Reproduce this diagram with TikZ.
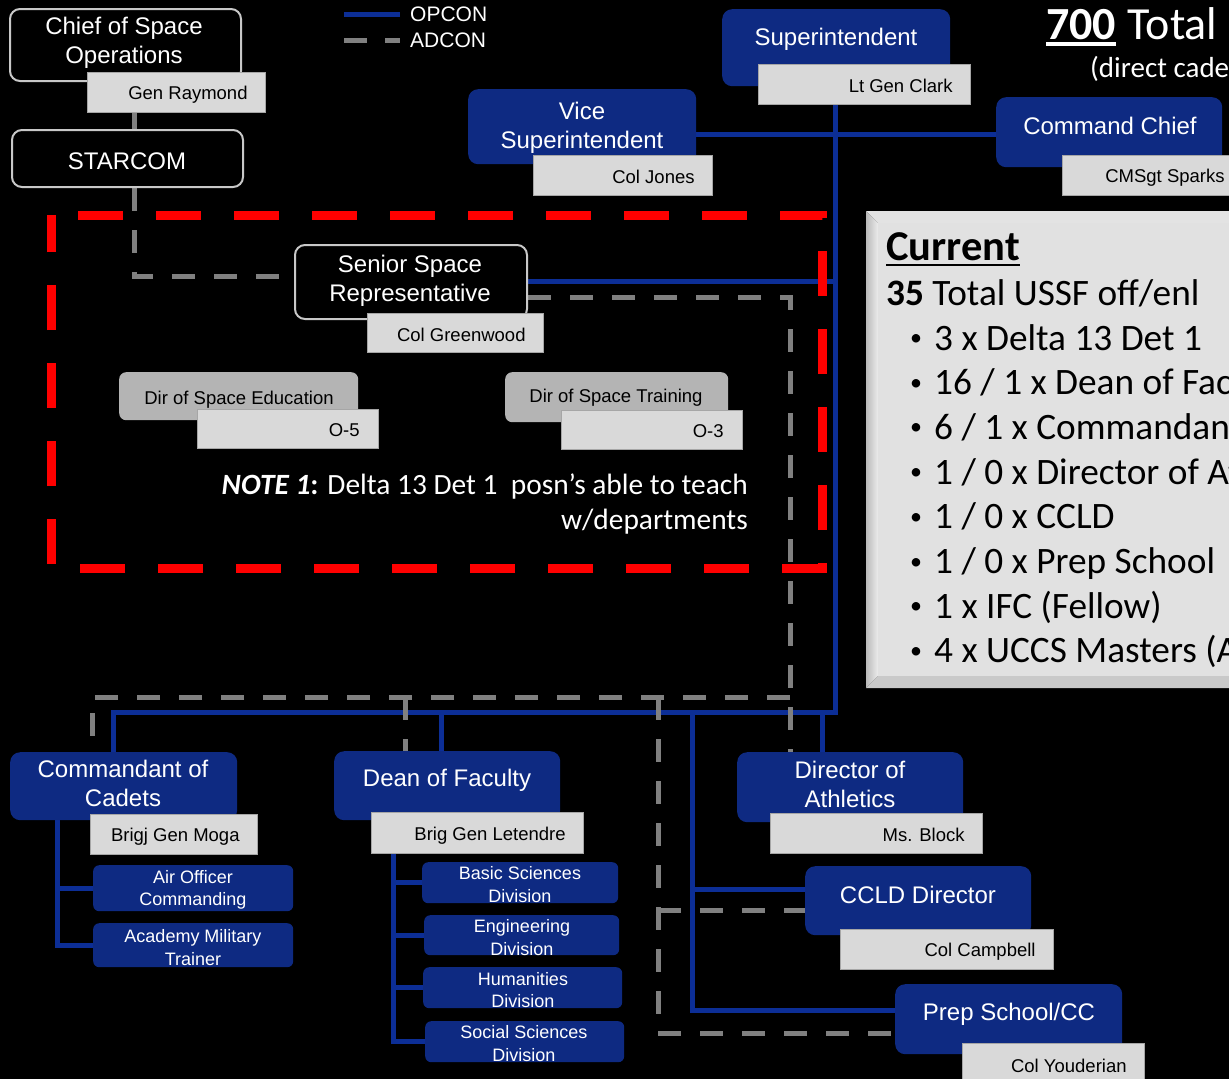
\documentclass[tikz,border=0pt]{standalone}
\usepackage{fontspec}
\setmainfont{Liberation Sans}
\newfontfamily\calfont{Carlito}
\usetikzlibrary{calc}
\definecolor{boxblue}{RGB}{14,42,130}
\definecolor{lineblue}{RGB}{12,46,150}
\definecolor{namegray}{RGB}{217,217,217}
\definecolor{adgray}{RGB}{128,128,128}
\definecolor{dirgray}{RGB}{180,180,180}
\definecolor{edgegray}{RGB}{200,200,200}
\definecolor{curgray}{RGB}{225,225,225}
\definecolor{notered}{RGB}{255,0,0}
\newcommand\fsBig{\fontsize{24}{29}\selectfont}
\newcommand\fsName{\fontsize{18.5}{22}\selectfont}
\newcommand\fsSmall{\fontsize{18}{22.5}\selectfont}
\newcommand\fsLeg{\fontsize{21}{25}\selectfont}
\newcommand\fsCur{\calfont\fontsize{37.3}{44}\selectfont}
\pgfdeclarelayer{canvas}
\pgfdeclarelayer{wires}
\pgfdeclarelayer{front}
\pgfsetlayers{canvas,wires,main,front}
\begin{document}
\begin{tikzpicture}[x=1pt,y=-1pt,
  darkbox/.style={draw=edgegray, line width=2pt, fill=black, rounded corners=10pt, anchor=north west, inner sep=0pt},
  bluebox/.style={fill=boxblue, rounded corners=10pt, anchor=north west, inner sep=0pt},
  smallblue/.style={fill=boxblue, rounded corners=6pt, anchor=north west, inner sep=0pt},
  dirbox/.style={fill=dirgray, rounded corners=7pt, anchor=north west, inner sep=0pt},
  namebox/.style={fill=namegray, draw=gray!70, line width=0.8pt, anchor=north west, inner sep=0pt},
  wtxt/.style={text=white, align=center, inner sep=0pt, font=\fsBig, yshift=-1.5pt},
  ntxt/.style={text=black, inner sep=0pt, anchor=east, font=\fsName, yshift=-1.5pt},
  stxt/.style={text=white, align=center, inner sep=0pt, font=\fsSmall, yshift=-1.5pt},
  dtxt/.style={text=black, inner sep=0pt, font=\fsName, yshift=-3pt},
  opcon/.style={draw=lineblue, line width=5pt},
  adcon/.style={draw=adgray, line width=5pt, dash pattern=on 23pt off 19pt},
  curtxt/.style={anchor=base west, inner sep=0pt, text=black, font=\fsCur},
  reddash/.style={draw=notered, line width=9pt, dash pattern=on 45pt off 33pt, dash phase=51pt},
]
\begin{pgfonlayer}{canvas}
\fill[black] (0,0) rectangle (1229,1079);
\end{pgfonlayer}
\useasboundingbox (0,0) rectangle (1229,1079);

% ================= TOP LEFT =================
\node[darkbox, minimum width=231pt, minimum height=72pt] (cso) at (9,8) {};
\node[wtxt] (cso-t) at (124,41.5) {Chief of Space\\Operations};
\node[namebox, minimum width=178pt, minimum height=40pt] (ray) at (87,72) {};
\node[ntxt] (ray-t) at ([xshift=-18pt,yshift=-1pt]ray.east) {Gen Raymond};
\node[darkbox, minimum width=231pt, minimum height=57pt] (starcom) at (11,129) {};
\node[wtxt] (starcom-t) at (127,160) {STARCOM};

% legend
\node[anchor=west, text=white, font=\fsLeg, inner sep=0pt] (legop) at (410,14) {OPCON};
\node[anchor=west, text=white, font=\fsLeg, inner sep=0pt] (legad) at (410,40) {ADCON};
\coordinate (lo) at (344,14);
\coordinate (la) at (344,40);
\draw[opcon] (lo) -- ([xshift=-10pt]legop.west);
\draw[adcon, dash pattern=on 23pt off 18pt] (la) -- ([xshift=-10pt]legad.west);

% ================= TOP CENTER / RIGHT =================
\node[bluebox, minimum width=228pt, minimum height=77pt] (sup) at (722,9) {};
\node[wtxt] (sup-t) at (836,38) {Superintendent};
\node[namebox, minimum width=212pt, minimum height=40pt] (clark) at (758,64) {};
\node[ntxt] (clark-t) at ([xshift=-18pt]clark.east) {Lt Gen Clark};

\node[bluebox, minimum width=228pt, minimum height=75pt] (vice) at (468,89) {};
\node[wtxt] (vice-t) at (582,126) {Vice\\Superintendent};
\node[namebox, minimum width=179pt, minimum height=40pt] (jones) at (533,155) {};
\node[ntxt] (jones-t) at ([xshift=-18pt]jones.east) {Col Jones};

\node[bluebox, minimum width=226pt, minimum height=70pt] (cmd) at (996,97) {};
\node[wtxt] (cmd-t) at (1110,124) {Command Chief};
\node[namebox, minimum width=180pt, minimum height=40pt] (sparks) at (1062,155) {};
\node[ntxt] (sparks-t) at ([xshift=-18pt,yshift=-1pt]sparks.east) {CMSgt Sparks};

% 700 Total
\node[anchor=base west, inner sep=0pt, text=white, font=\calfont\fontsize{46}{52}\selectfont\bfseries] (t700) at (1046,39) {700};
\node[anchor=base west, inner sep=0pt, text=white, font=\calfont\fontsize{46}{52}\selectfont] (ttot) at ([xshift=11pt]t700.base east) {Total};
\draw[white, line width=3.3pt] ([yshift=-5pt]t700.base west) -- ([yshift=-5pt]t700.base east);
\node[anchor=base west, inner sep=0pt, text=white, font=\calfont\fontsize{29}{34}\selectfont] (tdir) at (1090,77) {(direct cade};

% ================= CURRENT BOX =================
\fill[white!78!gray] (866,211) -- (1240,211) -- (1240,223) -- (878,223) -- cycle;
\shade[left color=gray!55, right color=white!85!gray] (866,211) -- (878,223) -- (878,676) -- (866,688) -- cycle;
\fill[white!58!gray] (866,688) -- (878,676) -- (1240,676) -- (1240,688) -- cycle;
\fill[curgray] (878,223) rectangle (1240,676);
\node[anchor=base west, inner sep=0pt, text=black, font=\calfont\fontsize{42.5}{48}\selectfont\bfseries] (cur-h) at (886,260) {Current};
\draw[black, line width=2.8pt] ([yshift=-5pt]cur-h.base west) -- ([yshift=-5pt]cur-h.base east);
\node[curtxt] (cur-tot) at (886,305) {\textbf{35} Total USSF off/enl};
\foreach \txt [count=\i from 0] in {3 x Delta 13 Det 1, 16 / 1 x Dean of Fac, 6 / 1 x Commandan, 1 / 0 x Director of At, 1 / 0 x CCLD, 1 / 0 x Prep School, 1 x IFC (Fellow), 4 x UCCS Masters (A}{
  \pgfmathsetmacro\yy{350+44.7*\i}
  \pgfmathsetmacro\yb{\yy-4.5}
  \node[anchor=base, inner sep=0pt, text=black, font=\calfont\fontsize{24}{28}\selectfont] (cur-b\i) at (916,\yb) {•};
  \node[curtxt] (cur-t\i) at (934,\yy) {\txt};
}

% ================= SPACE CELL (red dashed) =================
\node[darkbox, minimum width=232pt, minimum height=74pt] (ssr) at (294,244) {};
\node[wtxt] (ssr-t) at (410,279.5) {Senior Space\\Representative};
\node[namebox, minimum width=176pt, minimum height=39pt] (green) at (367,313) {};
\node[ntxt] (green-t) at ([xshift=-18pt]green.east) {Col Greenwood};

\node[dirbox, minimum width=239pt, minimum height=48pt] (dse) at (119,372) {};
\node[dtxt] (dse-t) at (239,397) {Dir of Space Education};
\node[namebox, minimum width=181pt, minimum height=39pt] (o5) at (197,409) {};
\node[ntxt] (o5-t) at ([xshift=-19pt]o5.east) {O-5};

\node[dirbox, minimum width=223pt, minimum height=50pt] (dst) at (505,372) {};
\node[dtxt] (dst-t) at (616,395) {Dir of Space Training};
\node[namebox, minimum width=181pt, minimum height=39pt] (o3) at (561,410) {};
\node[ntxt] (o3-t) at ([xshift=-19pt]o3.east) {O-3};

\node[anchor=base east, inner sep=0pt, text=white, font=\calfont\fontsize{29.4}{35}\selectfont] (note1a) at (748,494) {\textbf{\textit{NOTE 1}:} Delta 13 Det 1\ \ posn’s able to teach};
\node[anchor=base east, inner sep=0pt, text=white, font=\calfont\fontsize{29.4}{35}\selectfont] (note1b) at (748,529) {w/departments};

\node[minimum width=771pt, minimum height=353pt, anchor=north west, inner sep=0pt, outer sep=0pt] (cell) at (51,215) {};
\begin{pgfonlayer}{front}
\draw[reddash] (cell.north west) -- (cell.north east) -- (cell.south east) -- (cell.south west) -- cycle;
\end{pgfonlayer}

% ================= BOTTOM ROW =================
\node[bluebox, minimum width=227pt, minimum height=68pt] (coc) at (10,752) {};
\node[wtxt] (coc-t) at (123,782) {Commandant of\\Cadets};
\node[namebox, minimum width=167pt, minimum height=40pt] (moga) at (90,814) {};
\node[ntxt] (moga-t) at ([xshift=-18pt,yshift=-1pt]moga.east) {Brigj Gen Moga};
\node[smallblue, minimum width=200pt, minimum height=46pt] (aoc) at (93,865) {};
\node[stxt] (aoc-t) at (193,888.5) {Air Officer\\Commanding};
\node[smallblue, minimum width=200pt, minimum height=44pt] (amt) at (93,923) {};
\node[stxt] (amt-t) at (193,946) {Academy Military\\Trainer};

\node[bluebox, minimum width=226pt, minimum height=69pt] (dof) at (334,751) {};
\node[wtxt] (dof-t) at (447,778.5) {Dean of Faculty};
\node[namebox, minimum width=212pt, minimum height=41pt] (let) at (371,812) {};
\node[ntxt] (let-t) at ([xshift=-18pt,yshift=-1.5pt]let.east) {Brig Gen Letendre};
\node[smallblue, minimum width=196pt, minimum height=41pt] (bsd) at (422,862) {};
\node[stxt] (bsd-t) at (520,883) {Basic Sciences\\Division};
\node[smallblue, minimum width=195pt, minimum height=40pt] (eng) at (424,915) {};
\node[stxt] (eng-t) at (522,936) {Engineering\\Division};
\node[smallblue, minimum width=199pt, minimum height=41pt] (hum) at (423,967) {};
\node[stxt] (hum-t) at (523,988.5) {Humanities\\Division};
\node[smallblue, minimum width=199pt, minimum height=41pt] (soc) at (425,1021) {};
\node[stxt] (soc-t) at (524,1042) {Social Sciences\\Division};

\node[bluebox, minimum width=226pt, minimum height=70pt] (doa) at (737,752) {};
\node[wtxt] (doa-t) at (850,782.5) {Director of\\Athletics};
\node[namebox, minimum width=212pt, minimum height=40pt] (block) at (770,813) {};
\node[ntxt] (block-t) at ([xshift=-18pt]block.east) {Ms. Block};

\node[bluebox, minimum width=226pt, minimum height=69pt] (ccld) at (805,866) {};
\node[wtxt] (ccld-t) at (918,893) {CCLD Director};
\node[namebox, minimum width=213pt, minimum height=40pt] (camp) at (840,929) {};
\node[ntxt] (camp-t) at ([xshift=-18pt,yshift=-1pt]camp.east) {Col Campbell};

\node[bluebox, minimum width=227pt, minimum height=70pt] (prep) at (895,984) {};
\node[wtxt] (prep-t) at (1009,1012.5) {Prep School/CC};
\node[namebox, minimum width=182pt, minimum height=42pt] (youd) at (962,1043) {};
\node[ntxt] (youd-t) at ([xshift=-18pt]youd.east) {Col Youderian};

% ================= CONNECTORS =================
\coordinate (xs) at (835,0);
\coordinate (ybus) at (0,712);
\coordinate (yvc) at (0,134);
\coordinate (yssr) at (0,281);
\coordinate (xcoc) at (113,0);
\coordinate (xdof) at (441,0);
\coordinate (xdoa) at (822,0);
\coordinate (xcp) at (692,0);
\coordinate (yccl) at (0,889);
\coordinate (yprp) at (0,1010);
\coordinate (xct) at (57,0);
\coordinate (xdt) at (393,0);
\coordinate (xst) at (134,0);
\coordinate (yst) at (0,276);
\coordinate (ysa) at (0,297);
\coordinate (xsa) at (790,0);
\coordinate (yad) at (0,697);
\coordinate (xac) at (92,0);
\coordinate (xad) at (405,0);
\coordinate (xap) at (658,0);
\coordinate (yacl) at (0,910);
\coordinate (yapr) at (0,1033);

\begin{pgfonlayer}{wires}
% OPCON
\draw[opcon] (vice.east |- yvc) -- (cmd.west |- yvc);
\draw[opcon] (xs |- clark.south) -- (xs |- ybus) -- (xcoc |- ybus) -- (xcoc |- coc.north);
\draw[opcon] (xdof |- ybus) -- (xdof |- dof.north);
\draw[opcon] (xdoa |- ybus) -- (xdoa |- doa.north);
\draw[opcon] (xcp |- ybus) -- (xcp |- yprp) -- (prep.west |- yprp);
\draw[opcon] (xcp |- yccl) -- (ccld.west |- yccl);
\draw[opcon] (ssr.east |- yssr) -- (xs |- yssr);
\draw[opcon] (xct |- coc.south) -- (xct |- amt.west) -- (amt.west);
\draw[opcon] (xct |- aoc.west) -- (aoc.west);
\draw[opcon] (xdt |- let.south) -- (xdt |- soc.west) -- (soc.west);
\draw[opcon] (xdt |- bsd.west) -- (bsd.west);
\draw[opcon] (xdt |- eng.west) -- (eng.west);
\draw[opcon] (xdt |- hum.west) -- (hum.west);
% ADCON
\draw[adcon] (xst |- ray.south) -- (xst |- starcom.north);
\draw[adcon] (xst |- starcom.south) -- (xst |- yst) -- (ssr.west |- yst);
\draw[adcon] (ssr.east |- ysa) -- (xsa |- ysa) -- (xsa |- doa.north);
\draw[adcon] (xsa |- yad) -- (xac |- yad) -- (xac |- coc.north);
\draw[adcon] (xad |- yad) -- (xad |- dof.north);
\draw[adcon] (xap |- yad) -- (xap |- yapr) -- (prep.west |- yapr);
\draw[adcon] (xap |- yacl) -- (ccld.west |- yacl);
\end{pgfonlayer}
\end{tikzpicture}
\end{document}
